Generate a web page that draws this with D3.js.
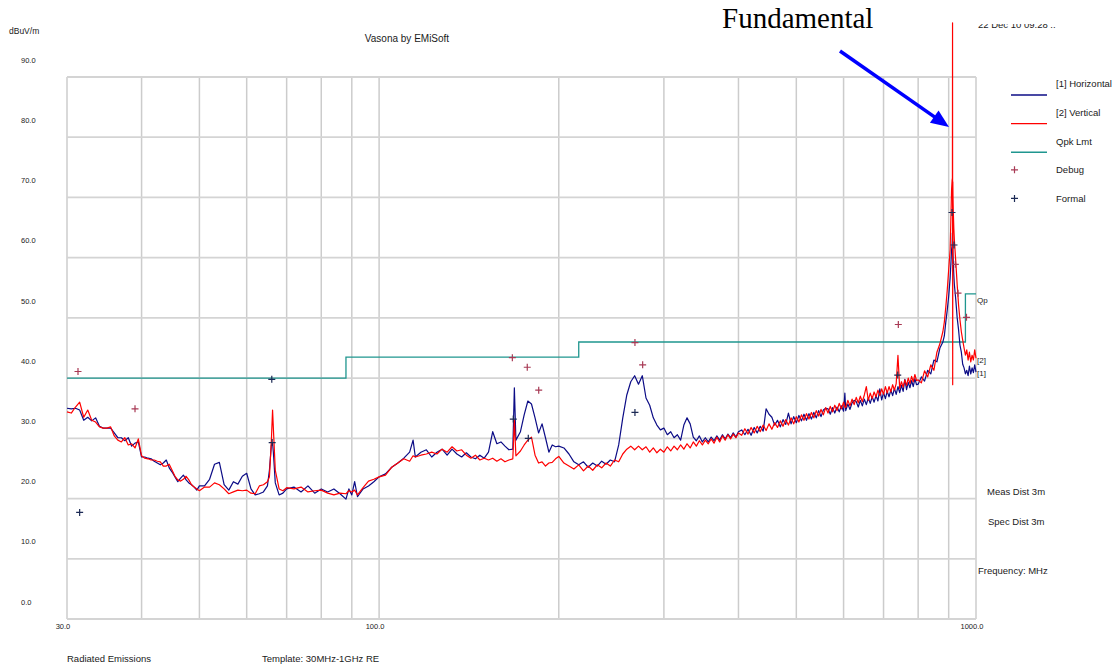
<!DOCTYPE html>
<html>
<head>
<meta charset="utf-8">
<script src="https://cdn.jsdelivr.net/npm/d3@7"></script>
<style>
  body { margin: 0; background: #fff; }
  text { font-family: "Liberation Sans", Arial, sans-serif; fill: #1a1a1a; }
</style>
</head>
<body>
<div id="chart"></div>
<script>
// sweep frequencies (MHz), shared by both antenna polarisations
var freqMHz = [
  30,30.5,31,31.5,32,32.5,33,33.5,34,34.5,35,35.5,36,36.5,37,37.5,38,38.5,39,39.5,
  40,40.5,41,41.5,42,42.5,43,43.5,44,44.5,45,45.5,46,46.5,47,47.5,48,48.5,49,49.5,50,
  51,52,53,54,55,56,57,58,59,60,61,62,63,64,65,65.5,66,66.3,66.5,67,68,69,70,
  72,74,76,78,80,82,84,86,88,89,90,91,92,94,96,98,
  100,102.5,105,107.5,110,112.5,114,115,117.5,120,122.5,125,127.5,130,132.5,135,137.5,140,142.5,145,
  147.5,150,152.5,155,157.5,160,162.5,165,167.5,168.5,169.5,172.5,175,177.5,180,182.5,185,187.5,190,192.5,195,197.5,
  200,204,208,212,216,220,224,228,232,236,240,244,248,252,256,260,264,268,272,276,
  280,284,288,292,296,300,304,308,312,316,320,324,328,332,336,340,344,348,352,356,
  360,364,368,372,376,380,384,388,392,396,400,
  405,410,415,420,425,430,435,440,445,450,455,460,465,470,475,480,485,490,495,500,
  505,510,515,520,525,530,535,540,545,550,555,560,565,570,575,580,585,590,595,600,
  603,605,610,615,620,625,630,635,640,645,650,655,660,665,670,675,680,685,690,695,
  700,705,710,715,720,725,730,735,740,745,750,755,760,765,770,775,780,785,790,795,
  800,810,820,830,840,850,860,870,880,885,890,895,900,905,908,910,912,913,913.5,914,
  914.5,915,916,918,920,925,930,935,940,945,950,955,960,965,970,975,980,985,990,995,1000
];

// [1] Horizontal, dBuV/m
var horizontal = [
  35.0,34.9,35.0,34.7,33.0,33.5,32.9,33.4,32.0,31.7,31.7,31.7,30.9,30.1,30.1,29.6,30.1,28.7,29.2,29.4,
  26.9,26.9,26.7,26.6,26.2,25.9,25.6,25.9,26.4,25.1,24.4,23.6,22.8,23.4,23.9,23.1,22.6,22.3,21.9,21.4,22.1,
  22.1,23.2,25.7,26.0,22.3,21.4,22.8,22.4,23.7,24.2,21.6,20.6,20.8,21.1,22.1,24.7,28.9,29.2,27.7,22.6,20.6,20.9,21.6,
  21.9,21.1,22.1,20.9,21.6,21.1,21.6,20.8,19.9,21.6,20.6,22.8,20.3,21.6,22.1,22.8,
  23.6,24.1,25.2,25.9,26.7,27.7,29.7,26.9,27.7,28.1,26.9,27.7,28.2,27.2,28.2,27.4,26.9,27.6,26.9,26.6,
  27.2,26.7,27.7,31.1,29.1,29.4,28.7,28.1,28.2,38.4,29.7,31.1,33.9,36.2,35.7,33.4,30.9,32.4,30.1,27.7,28.9,28.6,
  28.7,28.4,27.4,26.1,25.6,26.1,25.2,25.9,25.4,26.2,25.7,26.4,26.1,28.9,33.4,37.2,39.4,40.4,39.0,40.4,
  36.7,35.5,33.4,32.2,31.4,31.7,30.6,31.1,30.1,30.6,29.7,32.2,33.4,32.4,30.2,29.6,30.4,29.4,30.1,29.4,
  30.2,29.6,30.4,29.7,30.6,29.9,30.7,30.1,30.9,30.2,31.1,
  31.4,30.6,31.5,30.5,31.8,30.9,32.0,31.2,34.9,34.0,33.5,32.2,33.0,31.9,33.1,32.3,34.2,32.4,33.6,32.6,
  33.8,32.9,34.0,33.0,34.1,33.2,34.3,33.4,34.6,33.6,34.7,35.0,34.9,34.0,35.1,34.2,35.2,34.4,35.4,34.5,
  37.5,34.6,35.7,34.8,35.9,36.3,36.1,35.2,36.3,35.4,36.5,35.6,36.7,35.8,36.9,36.0,37.1,36.2,38.2,36.4,
  37.6,36.6,37.8,36.9,38.0,37.1,38.3,37.3,38.6,37.6,38.8,37.8,39.8,38.1,39.3,38.4,39.6,38.6,39.9,38.9,
  39.0,40.2,39.5,41.3,40.7,43.0,42.7,45.0,46.0,47.0,49.3,51.3,53.6,56.6,59.3,61.3,62.1,64.1,63.5,62.9,
  61.5,60.4,59.3,57.1,55.5,53.0,50.0,48.0,45.5,44.3,42.3,41.7,40.7,41.3,40.4,42.0,40.7,41.7,40.9,42.2,41.0
];

// [2] Vertical, dBuV/m
var vertical = [
  34.4,34.2,35.2,36.0,33.5,34.7,33.0,32.7,31.9,31.7,31.7,31.9,30.4,29.7,29.4,30.1,28.9,29.1,28.4,29.9,
  27.1,26.7,26.6,26.4,26.4,26.2,26.1,25.4,25.4,25.7,24.7,23.7,23.1,22.9,23.2,23.7,23.1,22.3,21.9,21.6,21.3,
  21.9,21.9,22.6,22.3,21.6,20.8,21.1,21.4,21.3,21.4,20.9,20.8,22.1,22.3,22.8,23.6,29.7,34.7,31.7,24.7,21.6,21.3,21.8,
  21.6,21.9,21.1,21.3,21.4,20.9,20.6,20.9,20.8,21.3,21.1,21.4,20.6,21.8,22.9,23.2,
  23.6,23.9,25.2,25.9,26.6,26.2,27.1,26.9,27.2,27.4,27.7,27.4,28.2,27.7,28.6,27.9,28.1,27.2,26.7,27.2,
  26.4,26.7,26.4,26.7,26.2,26.6,26.1,26.4,26.6,33.0,27.1,27.9,28.9,29.7,30.2,27.2,25.9,26.1,25.4,25.9,26.0,26.6,
  27.0,25.9,25.4,24.9,25.6,24.6,25.4,24.7,25.6,25.1,25.9,25.4,26.4,26.1,27.4,28.2,28.7,28.1,28.7,28.1,
  28.6,27.7,28.4,27.6,28.2,27.7,28.6,27.9,28.7,28.1,28.9,28.2,29.1,28.4,29.4,28.7,29.6,28.9,29.7,29.1,
  29.9,29.2,30.2,29.4,30.4,29.7,30.6,29.9,30.7,30.1,30.9,
  30.5,31.6,30.7,31.8,30.9,32.0,31.1,32.2,31.3,32.4,31.5,32.6,31.8,32.9,32.0,33.1,32.2,33.4,32.4,33.6,
  32.7,33.9,33.0,34.1,33.2,34.3,33.4,34.6,33.7,34.8,33.9,35.1,34.2,35.3,34.4,35.5,34.6,35.8,34.9,36.0,
  35.2,35.1,36.3,35.4,36.5,35.6,36.8,35.9,37.0,36.1,37.2,38.6,36.3,37.5,36.6,37.7,36.9,38.0,37.1,38.2,
  37.3,38.6,37.5,38.6,37.7,38.9,38.0,39.1,43.8,38.3,39.4,38.5,39.7,38.8,40.0,39.1,40.3,39.4,40.6,39.6,
  39.7,39.2,41.2,40.2,42.2,41.3,44.3,45.7,47.7,49.3,51.8,54.6,58.0,61.3,67.1,71.2,72.9,73.2,99.0,38.9,
  72.6,70.4,67.9,64.9,62.9,59.3,55.5,52.1,49.7,47.7,46.3,45.0,43.8,44.7,43.0,44.3,42.7,43.8,43.0,44.7,43.3
];

// quasi-peak limit
var limitFreq = [30, 88, 88, 216, 216, 960, 960, 1000];
var limitLevel = [40, 40, 43.5, 43.5, 46, 46, 54, 54];

// marker readings
var debugFreq = [31.3, 39.0, 167.2, 177.1, 185.1, 268.3, 276.4, 741.1, 923.3, 932.9, 964.0];
var debugLevel = [41.1, 34.9, 43.4, 41.8, 38.0, 45.9, 42.2, 48.9, 58.9, 54.1, 50.1];
var formalFreq = [31.5, 66.1, 66.2, 167.8, 177.8, 268.3, 739.4, 911.6, 918.6];
var formalLevel = [17.7, 39.8, 29.3, 33.2, 30.0, 34.3, 40.5, 67.5, 62.1];

var yTicks = [0, 10, 20, 30, 40, 50, 60, 70, 80, 90];
var xGrid = [30, 40, 50, 60, 70, 80, 90, 100, 200, 300, 400, 500, 600, 700, 800, 900, 1000];
var xLabels = [30, 100, 1000];

var width = 1118, height = 668;
var colH = "#0c0c86", colV = "#ff0000", colLmt = "#1f968f";

var svg = d3.select("#chart").append("svg")
  .attr("width", width)
  .attr("height", height)
  .style("display", "block");

svg.append("rect").attr("width", width).attr("height", height).attr("fill", "#fff");

var x = d3.scaleLog().domain([30, 1000]).range([67, 976]);
var y = d3.scaleLinear().domain([0, 90]).range([619, 77]);

// grid
var grid = svg.append("g").attr("stroke", "#cccccc").attr("stroke-width", 1.5);
grid.selectAll(".vg").data(xGrid).enter().append("line")
  .attr("x1", function(d){ return x(d); }).attr("x2", function(d){ return x(d); })
  .attr("y1", y(0)).attr("y2", y(90));
grid.selectAll(".hg").data(yTicks).enter().append("line")
  .attr("x1", x(30)).attr("x2", x(1000))
  .attr("y1", function(d){ return y(d); }).attr("y2", function(d){ return y(d); })
  .attr("stroke", "#d4d4d4").attr("stroke-width", 1.8);

// y tick labels sit above their grid line
svg.selectAll(".ylab").data(yTicks).enter().append("text")
  .attr("x", 21)
  .attr("y", function(d){ return y(d) - 17; })
  .attr("dy", "0.35em")
  .style("font-size", "7.5px")
  .text(function(d){ return d.toFixed(1); });

svg.selectAll(".xlab").data(xLabels).enter().append("text")
  .attr("x", function(d){ return x(d) - 4; })
  .attr("y", 626)
  .attr("dy", "0.35em")
  .attr("text-anchor", "middle")
  .style("font-size", "7.5px")
  .text(function(d){ return d.toFixed(1); });

// limit line
var limitPts = limitFreq.map(function(f, i){ return [f, limitLevel[i]]; });
svg.append("path")
  .datum(limitPts)
  .attr("fill", "none")
  .attr("stroke", colLmt)
  .attr("stroke-width", 1.3)
  .attr("d", d3.line().x(function(d){ return x(d[0]); }).y(function(d){ return y(d[1]); }));

// traces
var line = d3.line()
  .x(function(d){ return x(d[0]); })
  .y(function(d){ return y(d[1]); });

var hPts = freqMHz.map(function(f, i){ return [f, horizontal[i]]; });
var vPts = freqMHz.map(function(f, i){ return [f, vertical[i]]; });

svg.append("path").datum(hPts)
  .attr("fill", "none").attr("stroke", colH).attr("stroke-width", 1.2)
  .attr("stroke-linejoin", "round")
  .attr("d", line);
svg.append("path").datum(vPts)
  .attr("fill", "none").attr("stroke", colV).attr("stroke-width", 1.2)
  .attr("stroke-linejoin", "round")
  .attr("d", line);

// + markers
function plus(g, fx, fy, colour) {
  g.selectAll(null).data(fx).enter().append("path")
    .attr("transform", function(d, i){ return "translate(" + x(d) + "," + y(fy[i]) + ")"; })
    .attr("d", "M-3.5,0H3.5M0,-3.5V3.5")
    .attr("stroke", colour)
    .attr("stroke-width", 1.2);
}
var marks = svg.append("g");
plus(marks, debugFreq, debugLevel, "#a83a55");
plus(marks, formalFreq, formalLevel, "#1c2a55");

// labels at the right edge of the plot
svg.append("text").attr("x", 977).attr("y", 300).attr("dy", "0.35em").style("font-size", "8px").text("Qp");
svg.append("text").attr("x", 977).attr("y", 360).attr("dy", "0.35em").style("font-size", "8px").text("[2]");
svg.append("text").attr("x", 977).attr("y", 373).attr("dy", "0.35em").style("font-size", "8px").text("[1]");

// titles
svg.append("text").attr("x", 9).attr("y", 31).attr("dy", "0.35em").style("font-size", "8.5px").text("dBuV/m");
svg.append("text").attr("x", 407).attr("y", 38).attr("dy", "0.35em").attr("text-anchor", "middle")
  .style("font-size", "10px").text("Vasona by EMiSoft");

// timestamp, cut off at the top like the source image
svg.append("clipPath").attr("id", "stampClip")
  .append("rect").attr("x", 970).attr("y", 24).attr("width", 148).attr("height", 20);
svg.append("text").attr("x", 978).attr("y", 28).attr("clip-path", "url(#stampClip)")
  .style("font-size", "9.5px").text("22 Dec 10 09:28 ..");

// legend
var legend = [
  {label: "[1] Horizontal", colour: colH, kind: "line"},
  {label: "[2] Vertical", colour: colV, kind: "line"},
  {label: "Qpk Lmt", colour: colLmt, kind: "line"},
  {label: "Debug", colour: "#a83a55", kind: "plus"},
  {label: "Formal", colour: "#1c2a55", kind: "plus"}
];
var lg = svg.selectAll(".leg").data(legend).enter().append("g")
  .attr("transform", function(d, i){ return "translate(0," + (84 + i * 28.6) + ")"; });
lg.append("text").attr("x", 1056).attr("dy", "0.35em").style("font-size", "9.5px")
  .text(function(d){ return d.label; });
lg.filter(function(d){ return d.kind === "line"; }).append("line")
  .attr("x1", 1011).attr("x2", 1047).attr("y1", 11).attr("y2", 11)
  .attr("stroke", function(d){ return d.colour; }).attr("stroke-width", 1.4);
lg.filter(function(d){ return d.kind === "plus"; }).append("path")
  .attr("d", "M1011,0H1018M1014.5,-3.5V3.5")
  .attr("stroke", function(d){ return d.colour; }).attr("stroke-width", 1.2);

// side notes
svg.append("text").attr("x", 987).attr("y", 492).attr("dy", "0.35em").style("font-size", "9.5px").text("Meas Dist 3m");
svg.append("text").attr("x", 988).attr("y", 522).attr("dy", "0.35em").style("font-size", "9.5px").text("Spec Dist 3m");
svg.append("text").attr("x", 978).attr("y", 571).attr("dy", "0.35em").style("font-size", "9.5px").text("Frequency: MHz");

// footer
svg.append("text").attr("x", 67).attr("y", 659).attr("dy", "0.35em").style("font-size", "9.5px").text("Radiated Emissions");
svg.append("text").attr("x", 262).attr("y", 659).attr("dy", "0.35em").style("font-size", "9.5px").text("Template: 30MHz-1GHz RE");

// "Fundamental" annotation with blue arrow
svg.append("text").attr("x", 722).attr("y", 28)
  .style("font-family", "'Liberation Serif', 'Times New Roman', serif")
  .style("font-size", "29px").style("fill", "#000")
  .text("Fundamental");

var tail = [840, 51], tip = [949, 127];
var dx = tip[0] - tail[0], dy = tip[1] - tail[1], len = Math.sqrt(dx * dx + dy * dy);
var ux = dx / len, uy = dy / len;
var headLen = 18, headHalf = 7.5;
var base = [tip[0] - ux * headLen, tip[1] - uy * headLen];
svg.append("line")
  .attr("x1", tail[0]).attr("y1", tail[1]).attr("x2", base[0] + ux * 2).attr("y2", base[1] + uy * 2)
  .attr("stroke", "#0000ff").attr("stroke-width", 3.5);
svg.append("path")
  .attr("d", "M" + tip[0] + "," + tip[1] +
    "L" + (base[0] - uy * headHalf) + "," + (base[1] + ux * headHalf) +
    "L" + (base[0] + uy * headHalf) + "," + (base[1] - ux * headHalf) + "Z")
  .attr("fill", "#0000ff");
</script>
</body>
</html>
